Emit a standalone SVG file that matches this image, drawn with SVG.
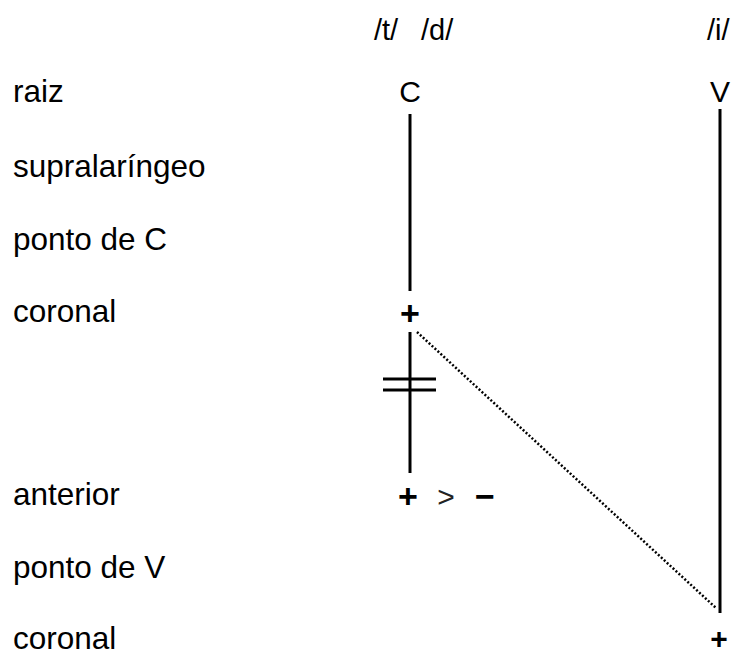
<svg xmlns="http://www.w3.org/2000/svg" width="739" height="656" viewBox="0 0 739 656">
<style>
text{font-family:"Liberation Sans",Arial,sans-serif;fill:#000}
.lbl{font-size:31.5px}
.hdr{font-size:29px}
.seg{font-size:30px;text-anchor:middle}
.sym{font-size:34px;font-weight:bold;text-anchor:middle}
.ln{stroke:#000;stroke-width:3;fill:none}
.dot{stroke:#000;stroke-width:2.5;stroke-dasharray:2 2;fill:none}
</style>
<rect width="739" height="656" fill="#fff"/>
<g id="tier-labels">
<text class="lbl" x="13" y="102">raiz</text>
<text class="lbl" x="13" y="177">supralaríngeo</text>
<text class="lbl" x="13" y="250">ponto de C</text>
<text class="lbl" x="13" y="322">coronal</text>
<text class="lbl" x="13" y="505">anterior</text>
<text class="lbl" x="13" y="578">ponto de V</text>
<text class="lbl" x="13" y="649">coronal</text>
</g>
<g id="headers">
<text class="hdr" x="374" y="40">/t/</text>
<text class="hdr" x="421" y="40">/d/</text>
<text class="hdr" x="707" y="40">/i/</text>
</g>
<g id="node-C"><text class="seg" x="410" y="102">C</text></g>
<g id="node-V"><text class="seg" x="720" y="102">V</text></g>
<g id="node-C-coronal"><text class="sym" x="410" y="325">+</text></g>
<g id="node-C-anterior">
<text class="sym" x="408" y="508">+</text>
<text x="446" y="507" style="font-size:30px;text-anchor:middle;fill:#222">&gt;</text>
<text class="sym" x="485" y="508">−</text>
</g>
<g id="node-V-coronal"><text class="sym" x="719" y="649" style="font-size:30px">+</text></g>
<g id="connectors">
<line class="ln" x1="410" y1="114" x2="410" y2="291"/>
<line class="ln" x1="410" y1="332" x2="410" y2="473"/>
<line class="ln" x1="383" y1="379" x2="436" y2="379"/>
<line class="ln" x1="383" y1="390" x2="436" y2="390"/>
<line class="ln" x1="720" y1="109" x2="720" y2="613"/>
<line class="dot" x1="417" y1="332" x2="716" y2="608"/>
</g>
</svg>
